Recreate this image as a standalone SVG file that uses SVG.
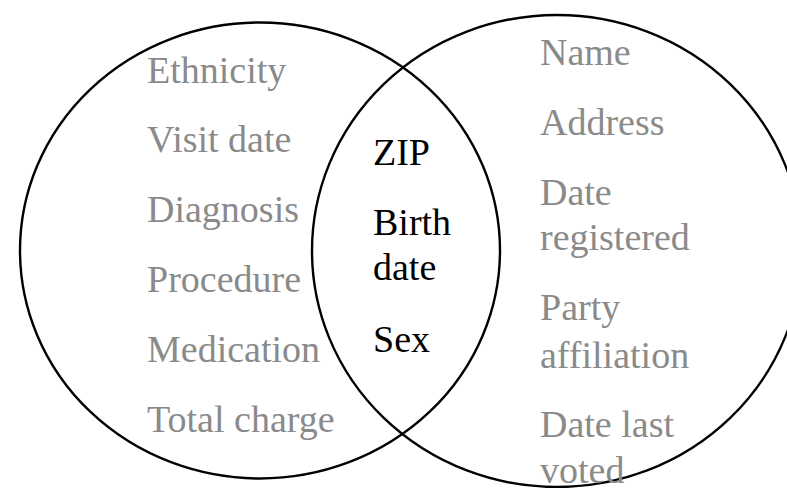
<svg xmlns="http://www.w3.org/2000/svg" width="787" height="488" viewBox="0 0 787 488">
  <style>
    .set { fill: none; stroke: #000; stroke-width: 2.4; }
    text { font-family: "Liberation Serif", "Times New Roman", serif; font-size: 38px; }
    .only { fill: #8a8a8a; }
    .shared { fill: #000; }
  </style>
  <rect width="787" height="488" fill="#fff"/>

  <!-- the two overlapping sets -->
  <g id="sets">
    <ellipse id="set-left" class="set" cx="260" cy="250.5" rx="240" ry="228"/>
    <ellipse id="set-right" class="set" cx="557" cy="251" rx="245" ry="236"/>
  </g>

  <!-- attributes only in the left set -->
  <g id="left-items" class="only">
    <text x="147" y="83">Ethnicity</text>
    <text x="147" y="152">Visit date</text>
    <text x="147" y="222">Diagnosis</text>
    <text x="147" y="292">Procedure</text>
    <text x="147" y="362">Medication</text>
    <text x="147" y="432">Total charge</text>
  </g>

  <!-- attributes in both sets -->
  <g id="shared-items" class="shared">
    <text x="373" y="165">ZIP</text>
    <text x="373" y="235">Birth<tspan x="373" y="280">date</tspan></text>
    <text x="373" y="352">Sex</text>
  </g>

  <!-- attributes only in the right set -->
  <g id="right-items" class="only">
    <text x="540" y="65">Name</text>
    <text x="540" y="135">Address</text>
    <text x="540" y="205">Date<tspan x="540" y="250">registered</tspan></text>
    <text x="540" y="320">Party<tspan x="540" y="368">affiliation</tspan></text>
    <text x="540" y="437">Date last<tspan x="540" y="483">voted</tspan></text>
  </g>
</svg>
